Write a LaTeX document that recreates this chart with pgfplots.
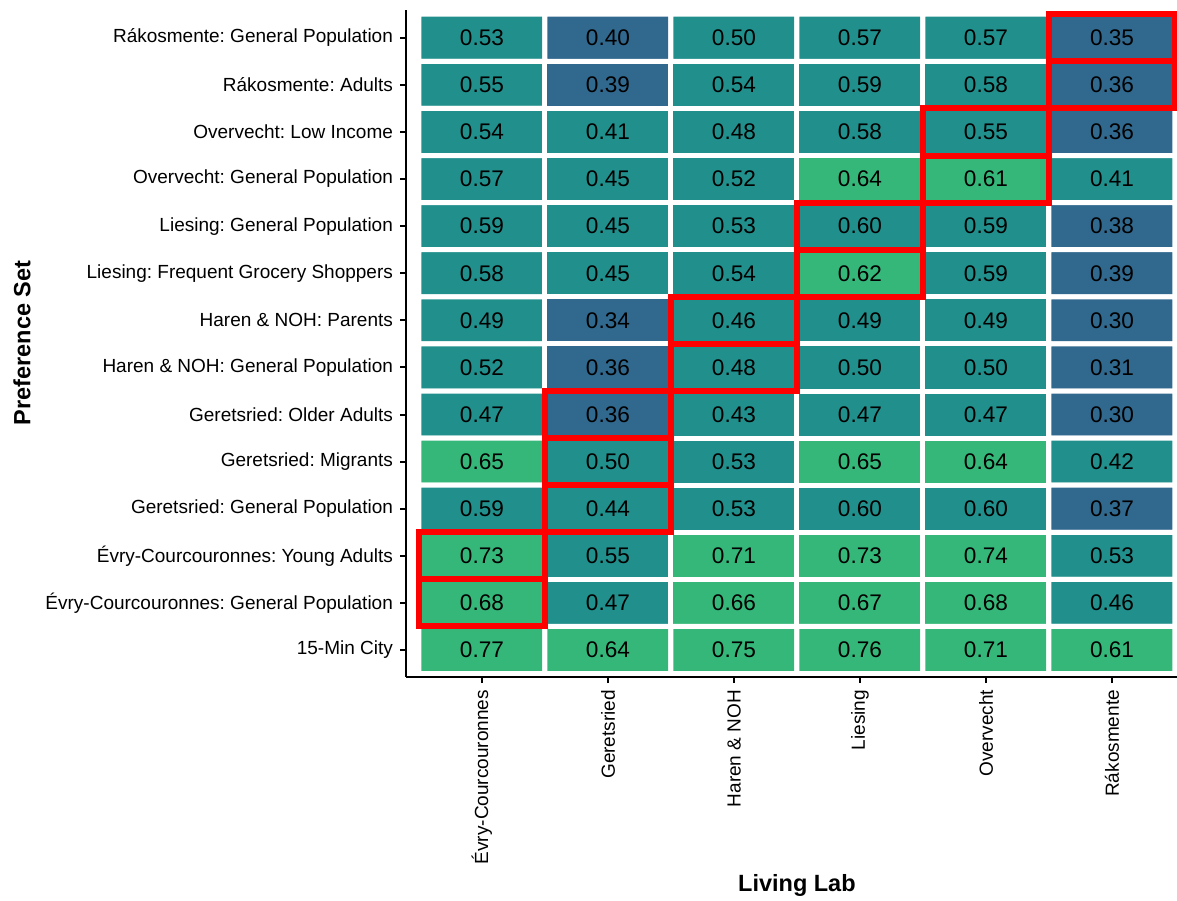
\documentclass[border=0pt]{standalone}
\usepackage{pgfplots}
\pgfplotsset{compat=1.18}
\usepackage{pgfplotstable}
\usepackage{fontspec}
\setmainfont{Liberation Sans}
\frenchspacing
\pgfdeclareplotmark{cellbox}{%
  \pgfpathrectangle{\pgfpoint{-31.5pt}{-11.775pt}}{\pgfpoint{63pt}{23.55pt}}%
  \pgfusepathqstroke}
% y = row index from the top (0 = Rákosmente: General Population)
\pgfplotstableread{
x y v
0 0 0.53
1 0 0.40
2 0 0.50
3 0 0.57
4 0 0.57
5 0 0.35
0 1 0.55
1 1 0.39
2 1 0.54
3 1 0.59
4 1 0.58
5 1 0.36
0 2 0.54
1 2 0.41
2 2 0.48
3 2 0.58
4 2 0.55
5 2 0.36
0 3 0.57
1 3 0.45
2 3 0.52
3 3 0.64
4 3 0.61
5 3 0.41
0 4 0.59
1 4 0.45
2 4 0.53
3 4 0.60
4 4 0.59
5 4 0.38
0 5 0.58
1 5 0.45
2 5 0.54
3 5 0.62
4 5 0.59
5 5 0.39
0 6 0.49
1 6 0.34
2 6 0.46
3 6 0.49
4 6 0.49
5 6 0.30
0 7 0.52
1 7 0.36
2 7 0.48
3 7 0.50
4 7 0.50
5 7 0.31
0 8 0.47
1 8 0.36
2 8 0.43
3 8 0.47
4 8 0.47
5 8 0.30
0 9 0.65
1 9 0.50
2 9 0.53
3 9 0.65
4 9 0.64
5 9 0.42
0 10 0.59
1 10 0.44
2 10 0.53
3 10 0.60
4 10 0.60
5 10 0.37
0 11 0.73
1 11 0.55
2 11 0.71
3 11 0.73
4 11 0.74
5 11 0.53
0 12 0.68
1 12 0.47
2 12 0.66
3 12 0.67
4 12 0.68
5 12 0.46
0 13 0.77
1 13 0.64
2 13 0.75
3 13 0.76
4 13 0.71
5 13 0.61
}\heat
\pgfplotstableread{
x y
5 0
5 1
4 2
4 3
3 4
3 5
2 6
2 7
1 8
1 9
1 10
0 11
0 12
}\highlight
\begin{document}
\begin{tikzpicture}
\useasboundingbox (0,0) rectangle (588.5pt,450pt);
\begin{axis}[
  at={(203pt,111.5pt)}, anchor=south west,
  scale only axis, width=385.5pt, height=333.5pt,
  y dir=reverse,
  xmin=-0.603, xmax=5.516, ymin=-0.59, ymax=13.573,
  clip=false,
  axis x line=bottom, axis y line=left,
  axis line style={-, line width=1pt, black},
  tick style={black, line width=1pt},
  tick align=outside, major tick length=3pt,
  xtick={0,...,5}, ytick={0,...,13},
  xticklabels={Évry-Courcouronnes,Geretsried,Haren \& NOH,Liesing,Overvecht,Rákosmente},
  yticklabels={Rákosmente: General Population,Rákosmente: Adults,Overvecht: Low Income,Overvecht: General Population,Liesing: General Population,Liesing: Frequent Grocery Shoppers,Haren \& NOH: Parents,Haren \& NOH: General Population,Geretsried: Older Adults,Geretsried: Migrants,Geretsried: General Population,Évry-Courcouronnes: Young Adults,Évry-Courcouronnes: General Population,15-Min City},
  xticklabel style={rotate=90, anchor=east, font=\fontsize{9.5}{11}\selectfont},
  yticklabel style={font=\fontsize{9.5}{11}\selectfont},
  xlabel={Living Lab}, ylabel={Preference Set},
  xlabel style={at={(axis description cs:0.507,-0.313)}, anchor=center, font=\bfseries\fontsize{11.75}{14}\selectfont},
  ylabel style={at={(axis description cs:-0.498,0.501)}, anchor=center, font=\bfseries\fontsize{11.75}{14}\selectfont},
  colormap={bins}{rgb255=(49,104,142) rgb255=(33,144,140) rgb255=(53,183,121)},
  colormap access=piecewise constant,
  point meta min=0.205, point meta max=0.805,
]
\addplot[matrix plot, mesh/cols=6, shader=faceted, faceted color=white, line width=2.5pt, point meta=\thisrow{v}] table[x=x,y=y] {\heat};
\addplot[only marks, mark=none, nodes near coords, point meta=explicit symbolic,
  nodes near coords align=center,
  every node near coord/.append style={anchor=center, text=black, font=\fontsize{11.3}{13}\selectfont}]
  table[x=x,y=y,meta=v] {\heat};
\addplot[only marks, mark=cellbox, mark options={draw=red, line width=3pt}] table[x=x,y=y] {\highlight};
\end{axis}
\end{tikzpicture}
\end{document}
